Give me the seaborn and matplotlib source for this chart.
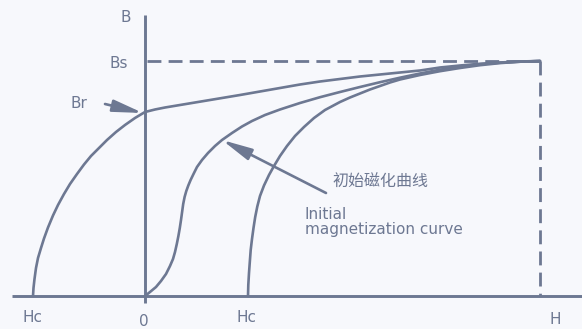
import matplotlib
matplotlib.use("Agg")
import matplotlib.pyplot as plt
import seaborn as sns
import pandas as pd

# Hysteresis sketch in arbitrary units: saturation at H = 395, B = 235
H_sat = 395.0
B_sat = 235.0

# descending branch: from -Hc up through Br to saturation
desc_H = [-112, -111.5, -110.5, -109, -107, -104, -101, -97, -92, -87, -81, -75, -68,
          -61, -54, -46, -38, -29, -20, -10, 0, 10, 20, 35, 50, 65, 80, 95, 115, 135,
          155, 175, 195, 215, 235, 255, 275, 295, 315, 335, 355, 375, 395]
desc_B = [0, 8, 17, 28, 38, 48, 57.5, 68.5, 80.5, 91, 102, 112, 122,
          131.5, 140, 148, 156, 164, 171, 178, 184, 186.5, 188.5, 191, 193.5, 196, 198.5, 201,
          204.5, 208, 211.5, 214.5, 217, 219.5, 221.5, 223.5, 225.5, 228.5, 230.5, 232.2,
          233.5, 234.5, 235]

# initial magnetization curve from the origin
init_H = [0, 5, 11, 16, 21, 25, 28, 30, 31.8, 33.4, 34.8, 36, 37.1, 38.2, 39.6, 41.3,
          43.3, 45.6, 48.5, 52, 57, 63, 70, 77, 87, 97, 107, 120, 135, 155, 175, 195, 215,
          235, 255, 275, 295, 315, 335, 355, 375, 395]
init_B = [0, 4, 9, 15, 22, 30, 37, 44, 52, 60, 68, 76, 84, 92, 99, 105,
          110.5, 116, 122, 129, 136, 143, 150, 156, 163, 169.5, 175, 181, 186.5, 193, 198.8,
          204, 209, 213.8, 218.3, 222.5, 226.3, 229.5, 231.8, 233.3, 234.3, 235]

# ascending branch: from +Hc up to saturation
asc_H = [103, 103.3, 104, 104.8, 105.7, 107, 108.5, 110.2, 112.3, 115, 119, 124, 129, 135,
         142, 150, 159, 169, 180, 195, 205, 215, 225, 235, 245, 255, 275, 295, 315, 335,
         355, 375, 395]
asc_B = [0, 11, 23, 34, 46, 57, 68, 79, 89.5, 100, 110.5, 121, 130, 140,
         150, 160, 169, 178, 186, 194, 198.5, 202.5, 206.5, 210, 213.5, 216.5, 221, 224.8,
         228, 230.8, 232.9, 234.3, 235]

axis_labels = {"B": "B", "H": "H", "origin": "0"}
point_labels = {"Bs": "Bs", "Br": "Br", "Hc": "Hc"}
label_cn = "初始磁化曲线"
label_en = ["Initial", "magnetization curve"]

ink = "#6d7892"
bg = "#f7f8fc"

sns.set_theme(style="white")
plt.rcParams["font.family"] = ["DejaVu Sans", "Noto Sans CJK SC"]

fig = plt.figure(figsize=(5.82, 3.29), dpi=100, facecolor=bg)
ax = fig.add_axes([0, 0, 1, 1])
ax.set_facecolor(bg)
ax.set_xlim(-145, 437)
ax.set_ylim(-33, 296)
ax.set_axis_off()

# coordinate axes
ax.plot([-133, 440], [0, 0], color=ink, lw=2.1, solid_capstyle="butt")
ax.plot([0, 0], [-7, 281], color=ink, lw=2.1, solid_capstyle="butt")

# saturation guides
dash = (0, (5.0, 2.6))
ax.plot([2, H_sat], [B_sat, B_sat], color=ink, lw=2.0, linestyle=dash)
ax.plot([H_sat, H_sat], [B_sat, 0.0], color=ink, lw=2.0, linestyle=dash)

curves = pd.concat([
    pd.DataFrame({"H": desc_H, "B": desc_B, "branch": "desc"}),
    pd.DataFrame({"H": init_H, "B": init_B, "branch": "init"}),
    pd.DataFrame({"H": asc_H, "B": asc_B, "branch": "asc"}),
])
sns.lineplot(data=curves, x="H", y="B", units="branch", estimator=None, sort=False,
             color=ink, lw=1.9, ax=ax, legend=False,
             solid_joinstyle="round", solid_capstyle="round")

fs = 11
ax.text(-19, 278, axis_labels["B"], color=ink, fontsize=fs, ha="center", va="center")
ax.text(-26, 232, point_labels["Bs"], color=ink, fontsize=fs, ha="center", va="center")
ax.text(-66, 192, point_labels["Br"], color=ink, fontsize=fs, ha="center", va="center")
ax.text(desc_H[0], -22, point_labels["Hc"], color=ink, fontsize=fs, ha="center", va="center")
ax.text(-1, -26, axis_labels["origin"], color=ink, fontsize=fs, ha="center", va="center")
ax.text(asc_H[0] - 1, -22, point_labels["Hc"], color=ink, fontsize=fs, ha="center", va="center")
ax.text(410, -24, axis_labels["H"], color=ink, fontsize=fs, ha="center", va="center")

ax.text(187, 114, label_cn, color=ink, fontsize=11.5, ha="left", va="center",
        family=["Noto Sans CJK SC", "DejaVu Sans"])
ax.text(160, 77, label_en[0], color=ink, fontsize=fs, ha="left", va="baseline")
ax.text(160, 62, label_en[1], color=ink, fontsize=fs, ha="left", va="baseline")

arrow_style = dict(arrowstyle="-|>,head_length=1.5,head_width=0.3", color=ink,
                   lw=1.9, shrinkA=0, shrinkB=0, mutation_scale=12)
ax.annotate("", xy=(-2, 183), xytext=(-40, 192), arrowprops=arrow_style)
ax.annotate("", xy=(77, 156), xytext=(181, 103), arrowprops=arrow_style)

fig.savefig("out.png", dpi=100, facecolor=bg)
